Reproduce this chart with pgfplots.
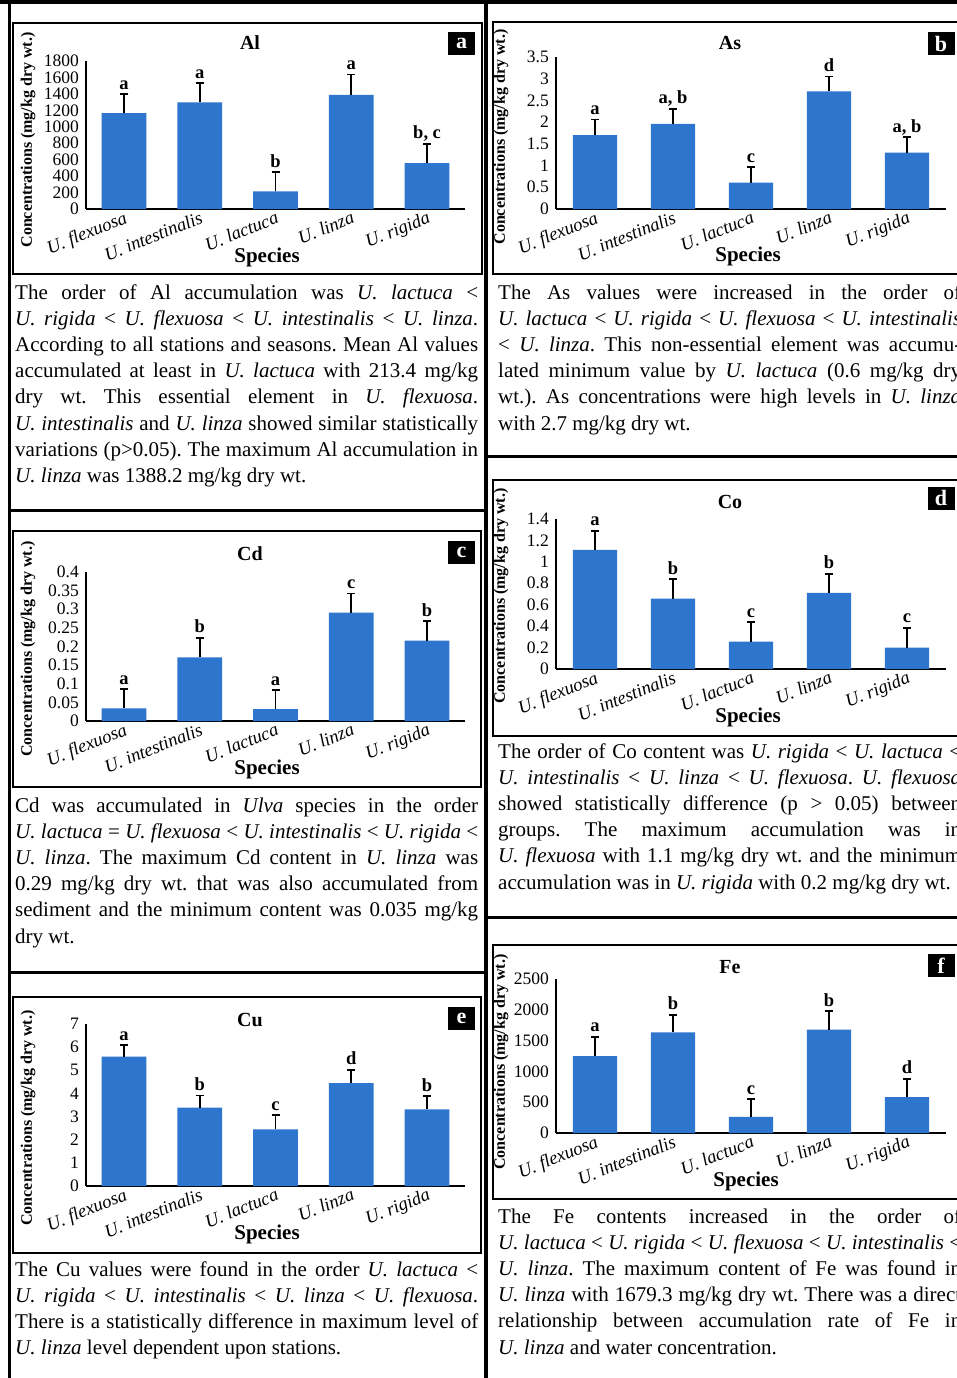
\documentclass[border=0pt]{standalone}
\usepackage{fontspec}
\setmainfont{Liberation Serif}
\usepackage{pgfplots}
\pgfplotsset{compat=1.18}
\definecolor{barblue}{RGB}{46,117,206}
\frenchspacing
\newcommand{\txtfont}{\fontsize{21}{21}\selectfont}
\newcommand{\U}[1]{\textit{U. #1}}
\newcommand{\JL}[3]{\node[anchor=base west,inner sep=0pt,font=\txtfont] at (#1pt,-#2pt) {\hbox to 463pt{#3}};}
\newcommand{\LL}[3]{\node[anchor=base west,inner sep=0pt,font=\txtfont] at (#1pt,-#2pt) {#3};}
\newcommand{\Ttl}[3]{\node[font=\bfseries\fontsize{20}{20}\selectfont] at (#1pt,-#2pt) {#3};}
\newcommand{\Spc}[2]{\node[font=\bfseries\fontsize{21}{21}\selectfont] at (#1pt,-#2pt) {Species};}
\newcommand{\Yl}[2]{\node[rotate=90,font=\bfseries\fontsize{16}{16}\selectfont] at (#1pt,-#2pt) {Concentrations (mg/kg dry wt.)};}
\newcommand{\Bx}[3]{\node[fill=black,text=white,font=\bfseries\fontsize{22}{22}\selectfont,minimum width=27pt,minimum height=23pt,inner sep=0pt] at (#1pt,-#2pt) {#3};}

\pgfplotsset{
 panel/.style={
  scale only axis, clip=false,
  xmin=-0.5, xmax=4.5, ymin=0,
  axis x line=bottom, axis y line=left,
  axis line style={-, line width=1.6pt, black},
  xtick={0,1,2,3,4},
  xticklabels={U. flexuosa,U. intestinalis,U. lactuca,U. linza,U. rigida},
  xticklabel style={rotate=22, anchor=north east, font=\fontsize{18.5}{18.5}\selectfont\itshape, inner sep=1pt},
  major tick length=0pt,
  yticklabel style={font=\fontsize{17.5}{17.5}\selectfont, inner sep=2pt, xshift=-5pt},
  scaled y ticks=false,
  /pgf/number format/fixed,
  /pgf/number format/1000 sep={},
  /pgf/number format/precision=2,
  /pgf/number format/assume math mode=true,
 },
 Lpanel/.style={panel, width=379pt},
 Rpanel/.style={panel, width=390pt},
 barsL/.style={ybar, bar width=0.59, fill=barblue, draw=none,
   error bars/.cd, y dir=plus, y explicit, error mark=-,
   error bar style={black, line width=1.7pt},
   error mark options={rotate=90, black, line width=1.7pt, mark size=4pt}},
 barsR/.style={ybar, bar width=0.565, fill=barblue, draw=none,
   error bars/.cd, y dir=plus, y explicit, error mark=-,
   error bar style={black, line width=1.7pt},
   error mark options={rotate=90, black, line width=1.7pt, mark size=4pt}},
 lets/.style={draw=none, mark=none, nodes near coords, point meta=explicit symbolic,
   nodes near coords style={anchor=base, font=\bfseries\fontsize{18.5}{18.5}\selectfont, yshift=5pt, inner sep=0pt}},
}

\begin{document}
\begin{tikzpicture}
\path[use as bounding box] (0,0) rectangle (957pt,-1378pt);
\fill[white] (0,0) rectangle (957pt,-1378pt);
\clip (0,0) rectangle (957pt,-1378pt);

% ---------- borders ----------
\draw[line width=4pt] (0,-2pt) -- (957pt,-2pt);
\draw[line width=3pt] (9.5pt,0) -- (9.5pt,-1378pt);
\draw[line width=3.5pt] (486pt,0) -- (486pt,-1378pt);
\draw[line width=3pt] (9.5pt,-510pt) -- (486pt,-510pt);
\draw[line width=3pt] (9.5pt,-972pt) -- (486pt,-972pt);
\draw[line width=3pt] (486pt,-456pt) -- (957pt,-456pt);
\draw[line width=3pt] (486pt,-917pt) -- (957pt,-917pt);

% ---------- chart frames ----------
\draw[line width=2pt] (13pt,-23pt) rectangle (482pt,-274pt);
\draw[line width=2pt] (493pt,-22pt) rectangle (964pt,-274pt);
\draw[line width=2pt] (13pt,-531pt) rectangle (481pt,-787pt);
\draw[line width=2pt] (493pt,-480pt) rectangle (964pt,-736pt);
\draw[line width=2pt] (13pt,-997pt) rectangle (481pt,-1253pt);
\draw[line width=2pt] (493pt,-945pt) rectangle (964pt,-1199pt);

% ---------- a: Al ----------
\begin{axis}[Lpanel, at={(86pt,-209pt)}, anchor=south west, height=148pt, ymax=1800, ytick={0,200,...,1800}]
\addplot[barsL] coordinates {(0,1165) +- (0,230) (1,1298) +- (0,231) (2,213.4) +- (0,236) (3,1388.2) +- (0,246) (4,558) +- (0,235)};
\addplot[lets] coordinates {(0,1395)[a] (1,1529)[a] (2,449)[b] (3,1634)[a] (4,793)[b, c]};
\end{axis}
\Ttl{250}{43}{Al}\Spc{267}{257}\Yl{28}{140}\Bx{461.5}{43.5}{a}

% ---------- b: As ----------
\begin{axis}[Rpanel, at={(556pt,-209pt)}, anchor=south west, height=152pt, ymax=3.5, ytick={0,0.5,1,1.5,2,2.5,3,3.5}]
\addplot[barsR] coordinates {(0,1.70) +- (0,0.36) (1,1.96) +- (0,0.35) (2,0.61) +- (0,0.35) (3,2.71) +- (0,0.34) (4,1.30) +- (0,0.35)};
\addplot[lets] coordinates {(0,2.06)[a] (1,2.31)[a, b] (2,0.96)[c] (3,3.05)[d] (4,1.65)[a, b]};
\end{axis}
\Ttl{730}{43}{As}\Spc{748}{256}\Yl{501}{137}\Bx{941}{43.5}{b}

% ---------- c: Cd ----------
\begin{axis}[Lpanel, at={(86pt,-721pt)}, anchor=south west, height=149pt, ymax=0.4, ytick={0,0.05,0.1,0.15,0.2,0.25,0.3,0.35,0.4}]
\addplot[barsL] coordinates {(0,0.034) +- (0,0.051) (1,0.171) +- (0,0.052) (2,0.032) +- (0,0.051) (3,0.291) +- (0,0.051) (4,0.216) +- (0,0.052)};
\addplot[lets] coordinates {(0,0.085)[a] (1,0.223)[b] (2,0.083)[a] (3,0.342)[c] (4,0.268)[b]};
\end{axis}
\Ttl{250}{554}{Cd}\Spc{267}{769}\Yl{28}{649}\Bx{461.5}{552}{c}

% ---------- d: Co ----------
\begin{axis}[Rpanel, at={(556pt,-669pt)}, anchor=south west, height=150pt, ymax=1.4, ytick={0,0.2,0.4,0.6,0.8,1,1.2,1.4}]
\addplot[barsR] coordinates {(0,1.113) +- (0,0.178) (1,0.658) +- (0,0.181) (2,0.256) +- (0,0.181) (3,0.711) +- (0,0.178) (4,0.200) +- (0,0.184)};
\addplot[lets] coordinates {(0,1.291)[a] (1,0.839)[b] (2,0.437)[c] (3,0.889)[b] (4,0.384)[c]};
\end{axis}
\Ttl{730}{502}{Co}\Spc{748}{717}\Yl{501}{596}\Bx{941}{498}{d}

% ---------- e: Cu ----------
\begin{axis}[Lpanel, at={(86pt,-1186pt)}, anchor=south west, height=162pt, ymax=7, ytick={0,1,2,3,4,5,6,7}]
\addplot[barsL] coordinates {(0,5.59) +- (0,0.50) (1,3.39) +- (0,0.52) (2,2.45) +- (0,0.61) (3,4.45) +- (0,0.57) (4,3.31) +- (0,0.57)};
\addplot[lets] coordinates {(0,6.09)[a] (1,3.91)[b] (2,3.06)[c] (3,5.02)[d] (4,3.88)[b]};
\end{axis}
\Ttl{250}{1020}{Cu}\Spc{267}{1234}\Yl{28}{1118}\Bx{461.5}{1018}{e}

% ---------- f: Fe ----------
\begin{axis}[Rpanel, at={(556pt,-1133pt)}, anchor=south west, height=154pt, ymax=2500, ytick={0,500,1000,1500,2000,2500}]
\addplot[barsR] coordinates {(0,1250) +- (0,314) (1,1634) +- (0,287) (2,260) +- (0,292) (3,1679.3) +- (0,296) (4,584) +- (0,298)};
\addplot[lets] coordinates {(0,1564)[a] (1,1921)[b] (2,552)[c] (3,1975)[b] (4,882)[d]};
\end{axis}
\Ttl{730}{967}{Fe}\Spc{746}{1181}\Yl{501}{1062}\Bx{941}{965.5}{f}

% ---------- texts ----------
\JL{15}{299}{The order of Al accumulation was \U{lactuca} <}
\JL{15}{325.2}{\U{rigida} < \U{flexuosa} < \U{intestinalis} < \U{linza}.}
\JL{15}{351.4}{According to all stations and seasons. Mean Al values}
\JL{15}{377.6}{accumulated at least in \U{lactuca} with 213.4 mg/kg}
\JL{15}{403.8}{dry wt. This essential element in \U{flexuosa}.}
\JL{15}{430}{\U{intestinalis} and \U{linza} showed similar statistically}
\JL{15}{456.2}{variations (p>0.05). The maximum Al accumulation in}
\LL{15}{482.4}{\U{linza} was 1388.2 mg/kg dry wt.}

\JL{498}{299}{The As values were increased in the order of}
\JL{498}{325.2}{\U{lactuca} < \U{rigida} < \U{flexuosa} < \U{intestinalis}}
\JL{498}{351.4}{< \U{linza}. This non-essential element was accumu-}
\JL{498}{377.6}{lated minimum value by \U{lactuca} (0.6 mg/kg dry}
\JL{498}{403.8}{wt.). As concentrations were high levels in \U{linza}}
\LL{498}{430}{with 2.7 mg/kg dry wt.}

\JL{15}{812}{Cd was accumulated in \textit{Ulva} species in the order}
\JL{15}{838.2}{\U{lactuca} = \U{flexuosa} < \U{intestinalis} < \U{rigida} <}
\JL{15}{864.4}{\U{linza}. The maximum Cd content in \U{linza} was}
\JL{15}{890.6}{0.29 mg/kg dry wt. that was also accumulated from}
\JL{15}{916.8}{sediment and the minimum content was 0.035 mg/kg}
\LL{15}{943}{dry wt.}

\JL{498}{758}{The order of Co content was \U{rigida} < \U{lactuca} <}
\JL{498}{784.2}{\U{intestinalis} < \U{linza} < \U{flexuosa}. \U{flexuosa}}
\JL{498}{810.4}{showed statistically difference (p > 0.05) between}
\JL{498}{836.6}{groups. The maximum accumulation was in}
\JL{498}{862.8}{\U{flexuosa} with 1.1 mg/kg dry wt. and the minimum}
\LL{498}{889}{accumulation was in \U{rigida} with 0.2 mg/kg dry wt.}

\JL{15}{1276}{The Cu values were found in the order \U{lactuca} <}
\JL{15}{1302.2}{\U{rigida} < \U{intestinalis} < \U{linza} < \U{flexuosa}.}
\JL{15}{1328.4}{There is a statistically difference in maximum level of}
\LL{15}{1354.6}{\U{linza} level dependent upon stations.}

\JL{498}{1223}{The Fe contents increased in the order of}
\JL{498}{1249.2}{\U{lactuca} < \U{rigida} < \U{flexuosa} < \U{intestinalis} <}
\JL{498}{1275.4}{\U{linza}. The maximum content of Fe was found in}
\JL{498}{1301.6}{\U{linza} with 1679.3 mg/kg dry wt. There was a direct}
\JL{498}{1327.8}{relationship between accumulation rate of Fe in}
\LL{498}{1354}{\U{linza} and water concentration.}
\end{tikzpicture}
\end{document}
